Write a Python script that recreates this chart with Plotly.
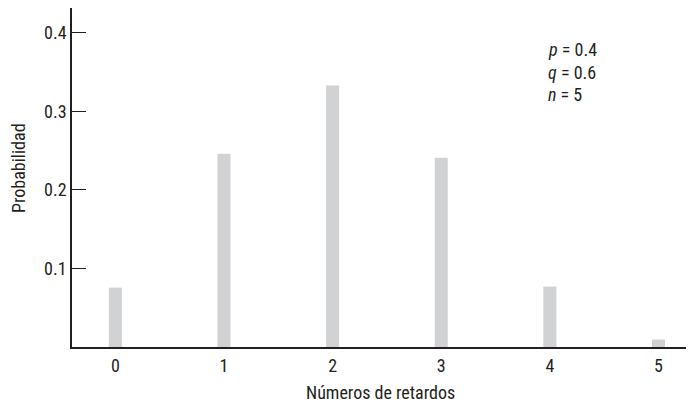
import plotly.graph_objects as go

categories = [0, 1, 2, 3, 4, 5]
probabilities = [0.0756, 0.246, 0.333, 0.241, 0.077, 0.0095]
y_ticks = [0.1, 0.2, 0.3, 0.4]
y_tick_labels = ["0.1", "0.2", "0.3", "0.4"]
x_title = "Números de retardos"
y_title = "Probabilidad"
param_lines = ["<i>p</i> = 0.4", "<i>q</i> = 0.6", "<i>n</i> = 5"]

FONT = "Liberation Sans Narrow, Arial Narrow, Roboto Condensed, Liberation Sans, sans-serif"
TXT = "#231f20"
FS = 18

# The page adds an 8px body margin; the figure is sized to fill the rest.
OFF = 8
W, H = 694 - OFF, 404 - OFF
PLOT_L, PLOT_T, PLOT_B = 72, 7, 347          # page pixels of the plot area
L, R = PLOT_L - OFF, 0
T = max(PLOT_T - OFF, 0)
B = H - (PLOT_B - OFF)
pw, ph = W - L - R, H - T - B

def px(x_page):
    return (x_page - OFF - L) / pw

def py(y_page):
    return ((PLOT_B - OFF) - (y_page - OFF)) / ph

fig = go.Figure()
fig.add_trace(go.Bar(
    x=categories, y=probabilities, width=0.12,
    marker=dict(color="#d1d2d4", line=dict(width=0)),
    hoverinfo="skip",
))

fig.update_layout(
    width=W, height=H,
    margin=dict(l=L, r=R, t=T, b=B, autoexpand=False),
    paper_bgcolor="white", plot_bgcolor="white",
    showlegend=False,
    font=dict(family=FONT, size=FS, color=TXT),
    xaxis=dict(
        range=[-0.399, 5.327],
        tickmode="array", tickvals=categories, ticktext=[str(c) for c in categories],
        showline=True, linecolor="#231f20", linewidth=1.5,
        ticks="outside", ticklen=2, tickcolor="rgba(0,0,0,0)",
        showgrid=False, zeroline=False,
        tickfont=dict(family=FONT, size=FS, color=TXT),
    ),
    yaxis=dict(
        range=[0, 0.4318],
        tickmode="array", tickvals=y_ticks, ticktext=y_tick_labels,
        showline=True, linecolor="#231f20", linewidth=1.5,
        ticks="inside", ticklen=14, tickwidth=1.3, tickcolor="#231f20",
        showgrid=False, zeroline=False,
        tickfont=dict(family=FONT, size=FS, color=TXT),
    ),
)

annotations = [
    dict(text=x_title, x=px(380), y=py(393), xref="paper", yref="paper",
         xanchor="center", yanchor="middle", showarrow=False,
         font=dict(family=FONT, size=FS, color=TXT)),
    dict(text=y_title, x=px(18), y=py(168), xref="paper", yref="paper",
         xanchor="center", yanchor="middle", showarrow=False, textangle=-90,
         font=dict(family=FONT, size=FS, color=TXT)),
]
for i, line in enumerate(param_lines):
    annotations.append(dict(
        text=line, x=px(546), y=py(50 + 22.5 * i), xref="paper", yref="paper",
        xanchor="left", yanchor="middle", showarrow=False,
        font=dict(family=FONT, size=FS, color=TXT)))
fig.update_layout(annotations=annotations)

fig.write_html("out.html")
